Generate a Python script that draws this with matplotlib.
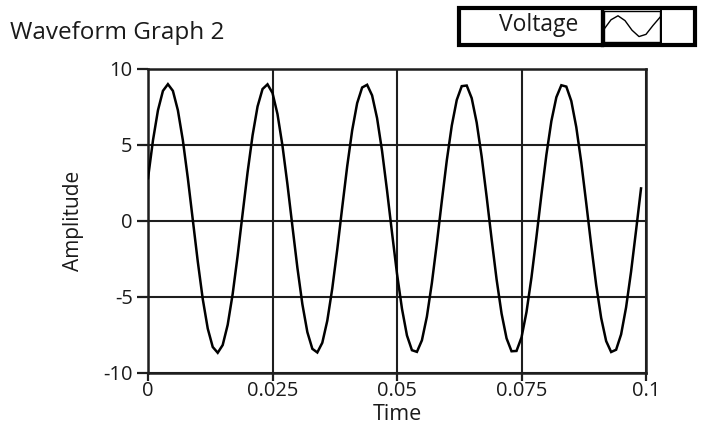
import numpy as np
import matplotlib
matplotlib.use("Agg")
import matplotlib.pyplot as plt
from matplotlib.patches import Rectangle

# ---- data ----
dt = 0.001
voltage = [
    2.80, 5.30, 7.28, 8.56, 9.00, 8.56, 7.28, 5.30, 2.80, 0.05,
    -2.70, -5.17, -7.11, -8.32, -8.70, -8.19, -6.86, -4.83, -2.30, 0.47,
    3.20, 5.63, 7.53, 8.68, 8.99, 8.42, 7.03, 4.95, 2.40, -0.37,
    -3.10, -5.50, -7.34, -8.44, -8.68, -8.04, -6.59, -4.47, -1.90, 0.88,
    3.59, 5.96, 7.75, 8.78, 8.96, 8.26, 6.76, 4.60, 1.99, -0.79,
    -3.49, -5.80, -7.56, -8.53, -8.64, -7.88, -6.32, -4.11, -1.49, 1.30,
    3.98, 6.27, 7.96, 8.87, 8.91, 8.08, 6.47, 4.23, 1.58, -1.21,
    -3.87, -6.12, -7.75, -8.60, -8.58, -7.69, -6.02, -3.74, -1.07, 1.72,
    4.35, 6.57, 8.14, 8.93, 8.84, 7.89, 6.17, 3.85, 1.16, -1.62,
    -4.24, -6.41, -7.93, -8.65, -8.50, -7.49, -5.71, -3.36, -0.65, 2.13,
]
x_ticks = [0, 0.025, 0.05, 0.075, 0.1]
x_tick_labels = ["0", "0.025", "0.05", "0.075", "0.1"]
y_ticks = [-10, -5, 0, 5, 10]
y_tick_labels = ["-10", "-5", "0", "5", "10"]
title = "Waveform Graph 2"
legend_label = "Voltage"
x_label = "Time"
y_label = "Amplitude"

t = np.arange(len(voltage)) * dt

FONT = ["Open Sans", "DejaVu Sans"]
plt.rcParams["font.family"] = FONT
TXT = "#1a1a1a"

fig = plt.figure(figsize=(7.04, 4.42), dpi=100)
fig.patch.set_facecolor("white")
W, H = 704.0, 442.0

def fx(px):
    return px / W

def fy(py):
    return 1 - py / H

left, right, top, bottom = 148, 646, 69, 372.5
ax = fig.add_axes([fx(left), fy(bottom), fx(right) - fx(left), (bottom - top) / H])
ax.plot(t, voltage, color="black", lw=1.8, solid_joinstyle="miter", zorder=3)
ax.set_xlim(0, 0.1)
ax.set_ylim(-10, 10)
ax.set_xticks(x_ticks)
ax.set_xticklabels(x_tick_labels)
ax.set_yticks(y_ticks)
ax.set_yticklabels(y_tick_labels)
ax.grid(True, color="#1e1e1e", lw=1.5)
ax.set_axisbelow(True)
for s in ax.spines.values():
    s.set_linewidth(1.8)
    s.set_color("#1e1e1e")
ax.tick_params(axis="both", direction="out", color="#1e1e1e",
               labelsize=14.5, labelcolor=TXT)
ax.tick_params(axis="y", length=8, width=1.6, pad=3)
ax.tick_params(axis="x", length=6, width=1.6, pad=0)
ax.set_xlabel(x_label, fontsize=15.5, color=TXT, labelpad=2)
ax.set_ylabel(y_label, fontsize=15, color=TXT, labelpad=14)

# title
fig.text(fx(10), fy(33), title, fontsize=17.5, color=TXT, ha="left", va="center")

# legend box (LabVIEW style plot legend)
lx0, lx1, ly0, ly1 = 459, 695, 8, 45
fig.patches.append(Rectangle((fx(lx0), fy(ly1)), fx(lx1) - fx(lx0), (ly1 - ly0) / H,
                             transform=fig.transFigure, facecolor="white",
                             edgecolor="black", lw=3.0, zorder=1))
for xd, lw in [(602, 2.4), (661, 1.4)]:
    fig.lines.append(plt.Line2D([fx(xd), fx(xd)], [fy(ly1), fy(ly0)],
                                transform=fig.transFigure, color="black", lw=lw, zorder=2))
fig.text(fx(539), fy(25), legend_label, fontsize=16.5, color=TXT, ha="center", va="center")
# icon cell with small waveform glyph
iax = fig.add_axes([fx(604), fy(42), fx(660) - fx(604), 31 / H], zorder=5)
iax.plot(t[18:43:3], voltage[18:43:3], color="black", lw=1.0)
iax.set_xlim(t[18], t[42])
iax.set_ylim(-13, 13)
iax.set_xticks([])
iax.set_yticks([])
for s in iax.spines.values():
    s.set_linewidth(1.0)

fig.savefig("out.png", dpi=100, facecolor="white")
